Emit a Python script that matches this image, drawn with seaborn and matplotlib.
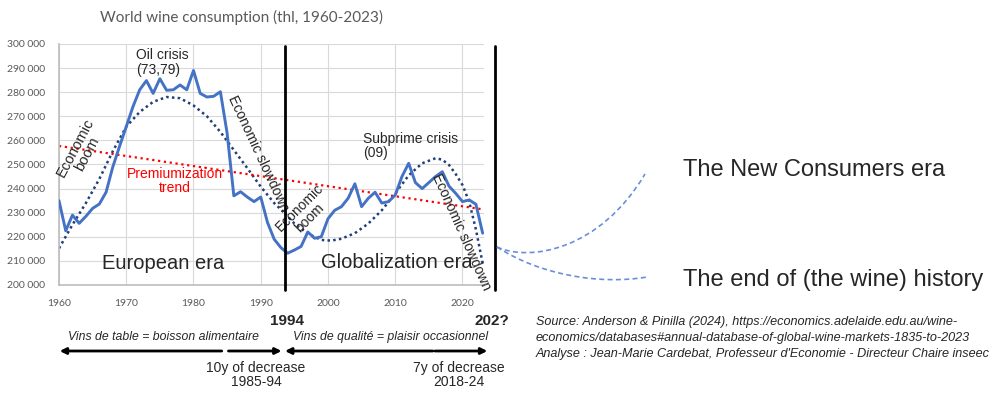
import matplotlib.pyplot as plt
import seaborn as sns
from matplotlib.patches import PathPatch
from matplotlib.path import Path

# World wine consumption (thl)
years = list(range(1960, 2024))
consumption = [
    235000, 222500, 229000, 225600, 228500, 231800, 233600, 238500, 249000, 257500,
    265700, 274000, 281000, 284800, 279500, 285600, 280800, 281000, 283000, 281000,
    289000, 279500, 278000, 278300, 280200, 263000, 237000, 238700, 236500, 234600,
    236500, 226000, 219000, 215500, 213200, 214500, 216000, 222000, 219400, 220000,
    227500, 231000, 232500, 236000, 242000, 232500, 236000, 238500, 234000, 234600,
    237300, 245000, 250500, 242500, 240000, 242500, 245000, 247000, 241000, 238000,
    234600, 235300, 233500, 221500,
]

# dotted cycle trends as drawn on the reference
trend1_years = [1960, 1962, 1964, 1966, 1968, 1970, 1972, 1974, 1976, 1978,
                1980, 1982, 1984, 1986, 1988, 1990, 1992, 1993.6]
trend1_vals = [215200, 225000, 234000, 244000, 255500, 265700, 271800, 276000, 278000, 277500,
               274500, 270000, 263500, 256000, 248500, 240800, 234000, 229700]
trend2_years = [1993.6, 1995, 1997, 1999, 2000.5, 2002, 2004, 2006, 2008, 2010,
                2012, 2014, 2016, 2017, 2018, 2019, 2020, 2021, 2022, 2023]
trend2_vals = [229700, 225500, 221300, 218700, 218400, 219200, 221500, 225500, 231000, 238000,
               245500, 250500, 252600, 252000, 249800, 246000, 241500, 234500, 223000, 209000]
# red "premiumization" trend
premium_years = [1960, 2023]
premium_vals = [257700, 231400]

era_breaks = [1993.6, 2024.9]
era_labels = ['1994', '202?']
xticks = list(range(1960, 2021, 10))
yticks = list(range(200000, 300001, 10000))

sns.set_theme(style='whitegrid')
plt.rcParams['font.family'] = ['Liberation Sans', 'DejaVu Sans']

W, H = 992, 398
fig = plt.figure(figsize=(W / 100, H / 100), dpi=100)
ax = fig.add_axes([59 / W, 1 - 285 / H, (484 - 59) / W, (285 - 44) / H])


def px(x, y):
    # image pixel -> figure fraction
    return (x / W, 1 - y / H)


sns.lineplot(x=years, y=consumption, ax=ax, color='#4472C4', lw=2.1, zorder=3)
ax.plot(trend1_years, trend1_vals, ls=(0, (1, 1.3)), color='#203E7A', lw=1.8, zorder=2)
ax.plot(trend2_years, trend2_vals, ls=(0, (1, 1.3)), color='#203E7A', lw=1.8, zorder=2)
ax.plot(premium_years, premium_vals, ls=':', color='#FF0000', lw=1.6, zorder=2)

ax.set_xlim(1960, 2023.2)
ax.set_ylim(200000, 300000)
ax.set_xticks(xticks)
ax.set_yticks(yticks)
ax.set_yticklabels([f'{v:,}'.replace(',', ' ') for v in yticks])
ax.tick_params(labelsize=7.5, colors='#595959', pad=4)
for lab in ax.get_xticklabels() + ax.get_yticklabels():
    lab.set_fontfamily('Lato')
ax.grid(color='#d9d9d9', lw=0.8)
for s in ['top', 'right']:
    ax.spines[s].set_visible(False)
for s in ['left', 'bottom']:
    ax.spines[s].set_color('#bfbfbf')
ax.set_xlabel('')
ax.set_ylabel('')

# era separators
for xb in era_breaks:
    ax.axvline(xb, ymin=-0.02, ymax=0.99, color='black', lw=2, clip_on=False, zorder=4)

fig.text(*px(241, 17), 'World wine consumption (thl, 1960-2023)', ha='center', va='center',
         fontsize=11, color='#595959', family='Lato')

# annotations inside the plot
ax.text(1971.4, 292300, 'Oil crisis\n(73,79)', ha='left', va='center', fontsize=10, linespacing=1.05)
ax.text(2005.2, 257700, 'Subprime crisis\n(09)', ha='left', va='center', fontsize=10, linespacing=1.05)
ax.text(1977.2, 243200, 'Premiumization\ntrend', ha='center', va='center', fontsize=10,
        color='#FF0000', linespacing=1.05)
ax.text(1963.3, 255800, 'Economic\nboom', ha='center', va='center', fontsize=10.5, rotation=62,
        linespacing=1.0)
ax.text(1989.6, 254400, 'Economic slowdown', ha='center', va='center', fontsize=10, rotation=-65)
ax.text(1996.6, 229900, 'Economic\nboom', ha='center', va='center', fontsize=10, rotation=45,
        linespacing=1.0)
ax.text(2019.8, 222000, 'Economic slowdown', ha='center', va='center', fontsize=10, rotation=-66,
        clip_on=False)
ax.text(1975.5, 209100, 'European era', ha='center', va='center', fontsize=14.5)
ax.text(2010.2, 209500, 'Globalization era', ha='center', va='center', fontsize=14.5)

# bottom timeline
fig.text(*px(287, 321), era_labels[0], ha='center', va='center', fontsize=11, fontweight='bold')
fig.text(*px(509, 321), era_labels[1], ha='right', va='center', fontsize=11, fontweight='bold')
fig.text(*px(164, 337), 'Vins de table = boisson alimentaire', ha='center', va='center',
         fontsize=8.8, style='italic')
fig.text(*px(391, 337), 'Vins de qualité = plaisir occasionnel', ha='center', va='center',
         fontsize=8.8, style='italic')
arrows = [(1960.1, 1984.2, 'left'), (1985.2, 1993.1, 'right'),
          (1993.6, 2015.6, 'left'), (2015.9, 2023.7, 'right')]
ya = 1 - 351 / H
for a, b, d in arrows:
    head, tail = (a, b) if d == 'left' else (b, a)
    ax.annotate('', xy=(head, ya), xytext=(tail, ya), xycoords=('data', 'figure fraction'),
                textcoords=('data', 'figure fraction'),
                arrowprops=dict(arrowstyle='-|>', color='black', lw=2, mutation_scale=9,
                                shrinkA=0, shrinkB=0))
fig.text(*px(256, 375), '10y of decrease\n1985-94', ha='center', va='center', fontsize=10,
         linespacing=1.05)
fig.text(*px(459, 375), '7y of decrease\n2018-24', ha='center', va='center', fontsize=10,
         linespacing=1.05)

# source
src = ('Source: Anderson & Pinilla (2024), https://economics.adelaide.edu.au/wine-\n'
       'economics/databases#annual-database-of-global-wine-markets-1835-to-2023\n'
       "Analyse : Jean-Marie Cardebat, Professeur d'Economie - Directeur Chaire inseec")
fig.text(*px(536, 338), src, ha='left', va='center', fontsize=9.1, style='italic', linespacing=1.4)

# future scenarios
for pts in [[(497, 247), (530, 262), (600, 250), (645, 174)],
            [(497, 247), (540, 275), (600, 285), (647, 277)]]:
    path = Path([px(*p) for p in pts], [Path.MOVETO, Path.CURVE4, Path.CURVE4, Path.CURVE4])
    fig.add_artist(PathPatch(path, transform=fig.transFigure, fill=False, ec='#6A8FD8',
                             lw=1.2, ls=(0, (3, 2))))
fig.text(*px(683, 170), 'The New Consumers era', ha='left', va='center', fontsize=17)
fig.text(*px(683, 280), 'The end of (the wine) history', ha='left', va='center', fontsize=17)

fig.savefig('out.png', dpi=100)
